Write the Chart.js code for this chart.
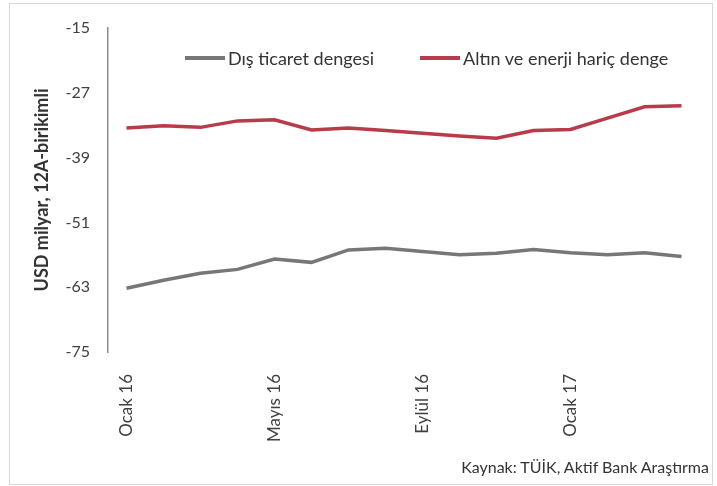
<!DOCTYPE html>
<html>
<head>
<meta charset="utf-8">
<script src="https://cdn.jsdelivr.net/npm/chart.js@4/dist/chart.umd.min.js"></script>
<style>
  body { margin: 0; background: #fff; font-family: Lato, "Open Sans", sans-serif; }
  .kutu { position: absolute; left: 9px; top: 3px; width: 702px; height: 480px; border: 1px solid #d9d9d9; }
  .grafik { position: absolute; left: 0; top: 0; width: 717px; height: 486px; }
  .lejant { position: absolute; top: 47px; left: 185px; font-size: 18px; color: #333; display: flex; }
  .lejant span { display: flex; align-items: center; margin-right: 46px; }
  .lejant i { display: inline-block; width: 40px; height: 4px; margin-right: 3px; }
  .kaynak { position: absolute; right: 8px; top: 457px; font-size: 16px; color: #333; }
</style>
</head>
<body>
<div class="kutu"></div>
<div class="grafik"><canvas id="myChart"></canvas></div>
<div class="lejant">
  <span><i style="background:#777777"></i>Dış ticaret dengesi</span>
  <span><i style="background:#b93a48"></i>Altın ve enerji hariç denge</span>
</div>
<div class="kaynak">Kaynak: TÜİK, Aktif Bank Araştırma</div>
<script>
const aylar = ["Ocak 16", "Şubat 16", "Mart 16", "Nisan 16", "Mayıs 16", "Haziran 16", "Temmuz 16", "Ağustos 16",
  "Eylül 16", "Ekim 16", "Kasım 16", "Aralık 16", "Ocak 17", "Şubat 17", "Mart 17", "Nisan 17"]
const disTicaret = [-63.2, -61.7, -60.4, -59.7, -57.8, -58.4, -56.1, -55.8, -56.4, -57.0, -56.7, -56.0, -56.6, -57.0, -56.6, -57.3]
const altinEnerjiHaric = [-33.5, -33.1, -33.4, -32.2, -32.0, -33.9, -33.5, -34.0, -34.5, -35.0, -35.4, -34.0, -33.8, -31.7, -29.6, -29.4]

const yaziRengi = "#404040"
const font = "Lato, 'Open Sans', sans-serif"

const config = {
  type: "line",
  data: {
    labels: aylar,
    datasets: [
      { label: "Dış ticaret dengesi", data: disTicaret, borderColor: "#777777", borderWidth: 3.5, pointRadius: 0, tension: 0 },
      { label: "Altın ve enerji hariç denge", data: altinEnerjiHaric, borderColor: "#b93a48", borderWidth: 3.5, pointRadius: 0, tension: 0 }
    ]
  },
  options: {
    responsive: true,
    maintainAspectRatio: false,
    animation: false,
    layout: { padding: { left: 29, right: 17, top: 28, bottom: 0 } },
    plugins: { legend: { display: false }, tooltip: { enabled: false } },
    scales: {
      x: {
        offset: true,
        grid: { display: false },
        border: { display: false },
        ticks: {
          color: yaziRengi,
          font: { family: font, size: 17 },
          minRotation: 90,
          maxRotation: 90,
          autoSkip: false,
          padding: 14,
          callback: function (v, i) { return i % 4 === 0 ? aylar[i] : "" }
        },
        afterFit: function (s) { s.height = 134 }
      },
      y: {
        min: -75,
        max: -15,
        grid: { display: false },
        border: { display: true, color: "#8c8c8c", width: 1.5 },
        ticks: { stepSize: 12, color: yaziRengi, padding: 10, font: { family: font, size: 16 } },
        title: { display: true, text: "USD milyar, 12A-birikimli", color: "#333", font: { family: font, size: 18, weight: "bold" }, padding: 2 },
        afterFit: function (s) { s.width = 79 }
      }
    }
  }
}
new Chart(document.querySelector("#myChart"), config)
</script>
</body>
</html>
